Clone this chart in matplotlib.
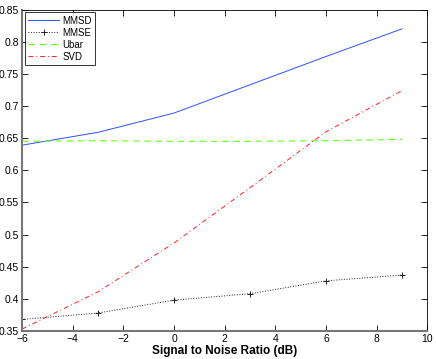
#!/usr/bin/env python3

import matplotlib
matplotlib.use('Agg')
import matplotlib.pyplot as plt
import numpy as np

plt.rcParams['font.family'] = ['Liberation Sans', 'DejaVu Sans']

snr = [-6, -3, 0, 3, 6, 9]
mmsd = [0.639, 0.659, 0.689, 0.733, 0.777, 0.820]
mmse = [0.368, 0.378, 0.398, 0.408, 0.428, 0.437]
ubar = [0.645, 0.646, 0.645, 0.645, 0.646, 0.648]
svd = [0.353, 0.411, 0.487, 0.573, 0.660, 0.724]

fig = plt.figure(figsize=(4.36, 3.59), dpi=100)
ax = fig.add_axes([0.0505, 0.078, 0.93, 0.8955])

ax.plot(snr, mmsd, '-', color='#3050ff', lw=0.7, label='MMSD')
ax.plot(snr, mmse, ':', color='#222222', lw=0.7, marker='+', ms=5, mew=0.7,
        label='MMSE')
ax.plot(snr, ubar, '--', color='#66ff22', lw=0.8, dashes=(6, 4), label='Ubar')
ax.plot(snr, svd, '-.', color='#ff2020', lw=0.7, dashes=(5, 3, 1, 3),
        label='SVD')

ax.set_xlim(-6, 10)
ax.set_ylim(0.35, 0.85)
ax.set_xticks(np.arange(-6, 11, 2))
ax.set_yticks(np.arange(0.35, 0.851, 0.05))
ax.set_yticklabels(['0.35', '0.4', '0.45', '0.5', '0.55', '0.6', '0.65',
                    '0.7', '0.75', '0.8', '0.85'])
ax.set_xticklabels(['\u22126', '\u22124', '\u22122', '0', '2', '4', '6', '8',
                    '10'])
ax.tick_params(direction='in', top=True, right=True, labelsize=7.5,
               length=4, width=0.6, pad=2)
for s in ax.spines.values():
    s.set_linewidth(0.6)
ax.spines['left'].set_linewidth(1.5)
ax.spines['bottom'].set_linewidth(1.5)
ax.spines['left'].set_color('#777777')
ax.spines['bottom'].set_color('#777777')

ax.set_xlabel('Signal to Noise Ratio (dB)', fontsize=8.5, fontweight='bold',
              labelpad=1)

leg = ax.legend(loc='upper left', fontsize=7, fancybox=False,
                borderaxespad=0.3, handlelength=3.2, labelspacing=0.2,
                borderpad=0.35, handletextpad=0.3)
leg.get_frame().set_edgecolor('k')
leg.get_frame().set_linewidth(0.7)

plt.savefig('out.png', dpi=100)
